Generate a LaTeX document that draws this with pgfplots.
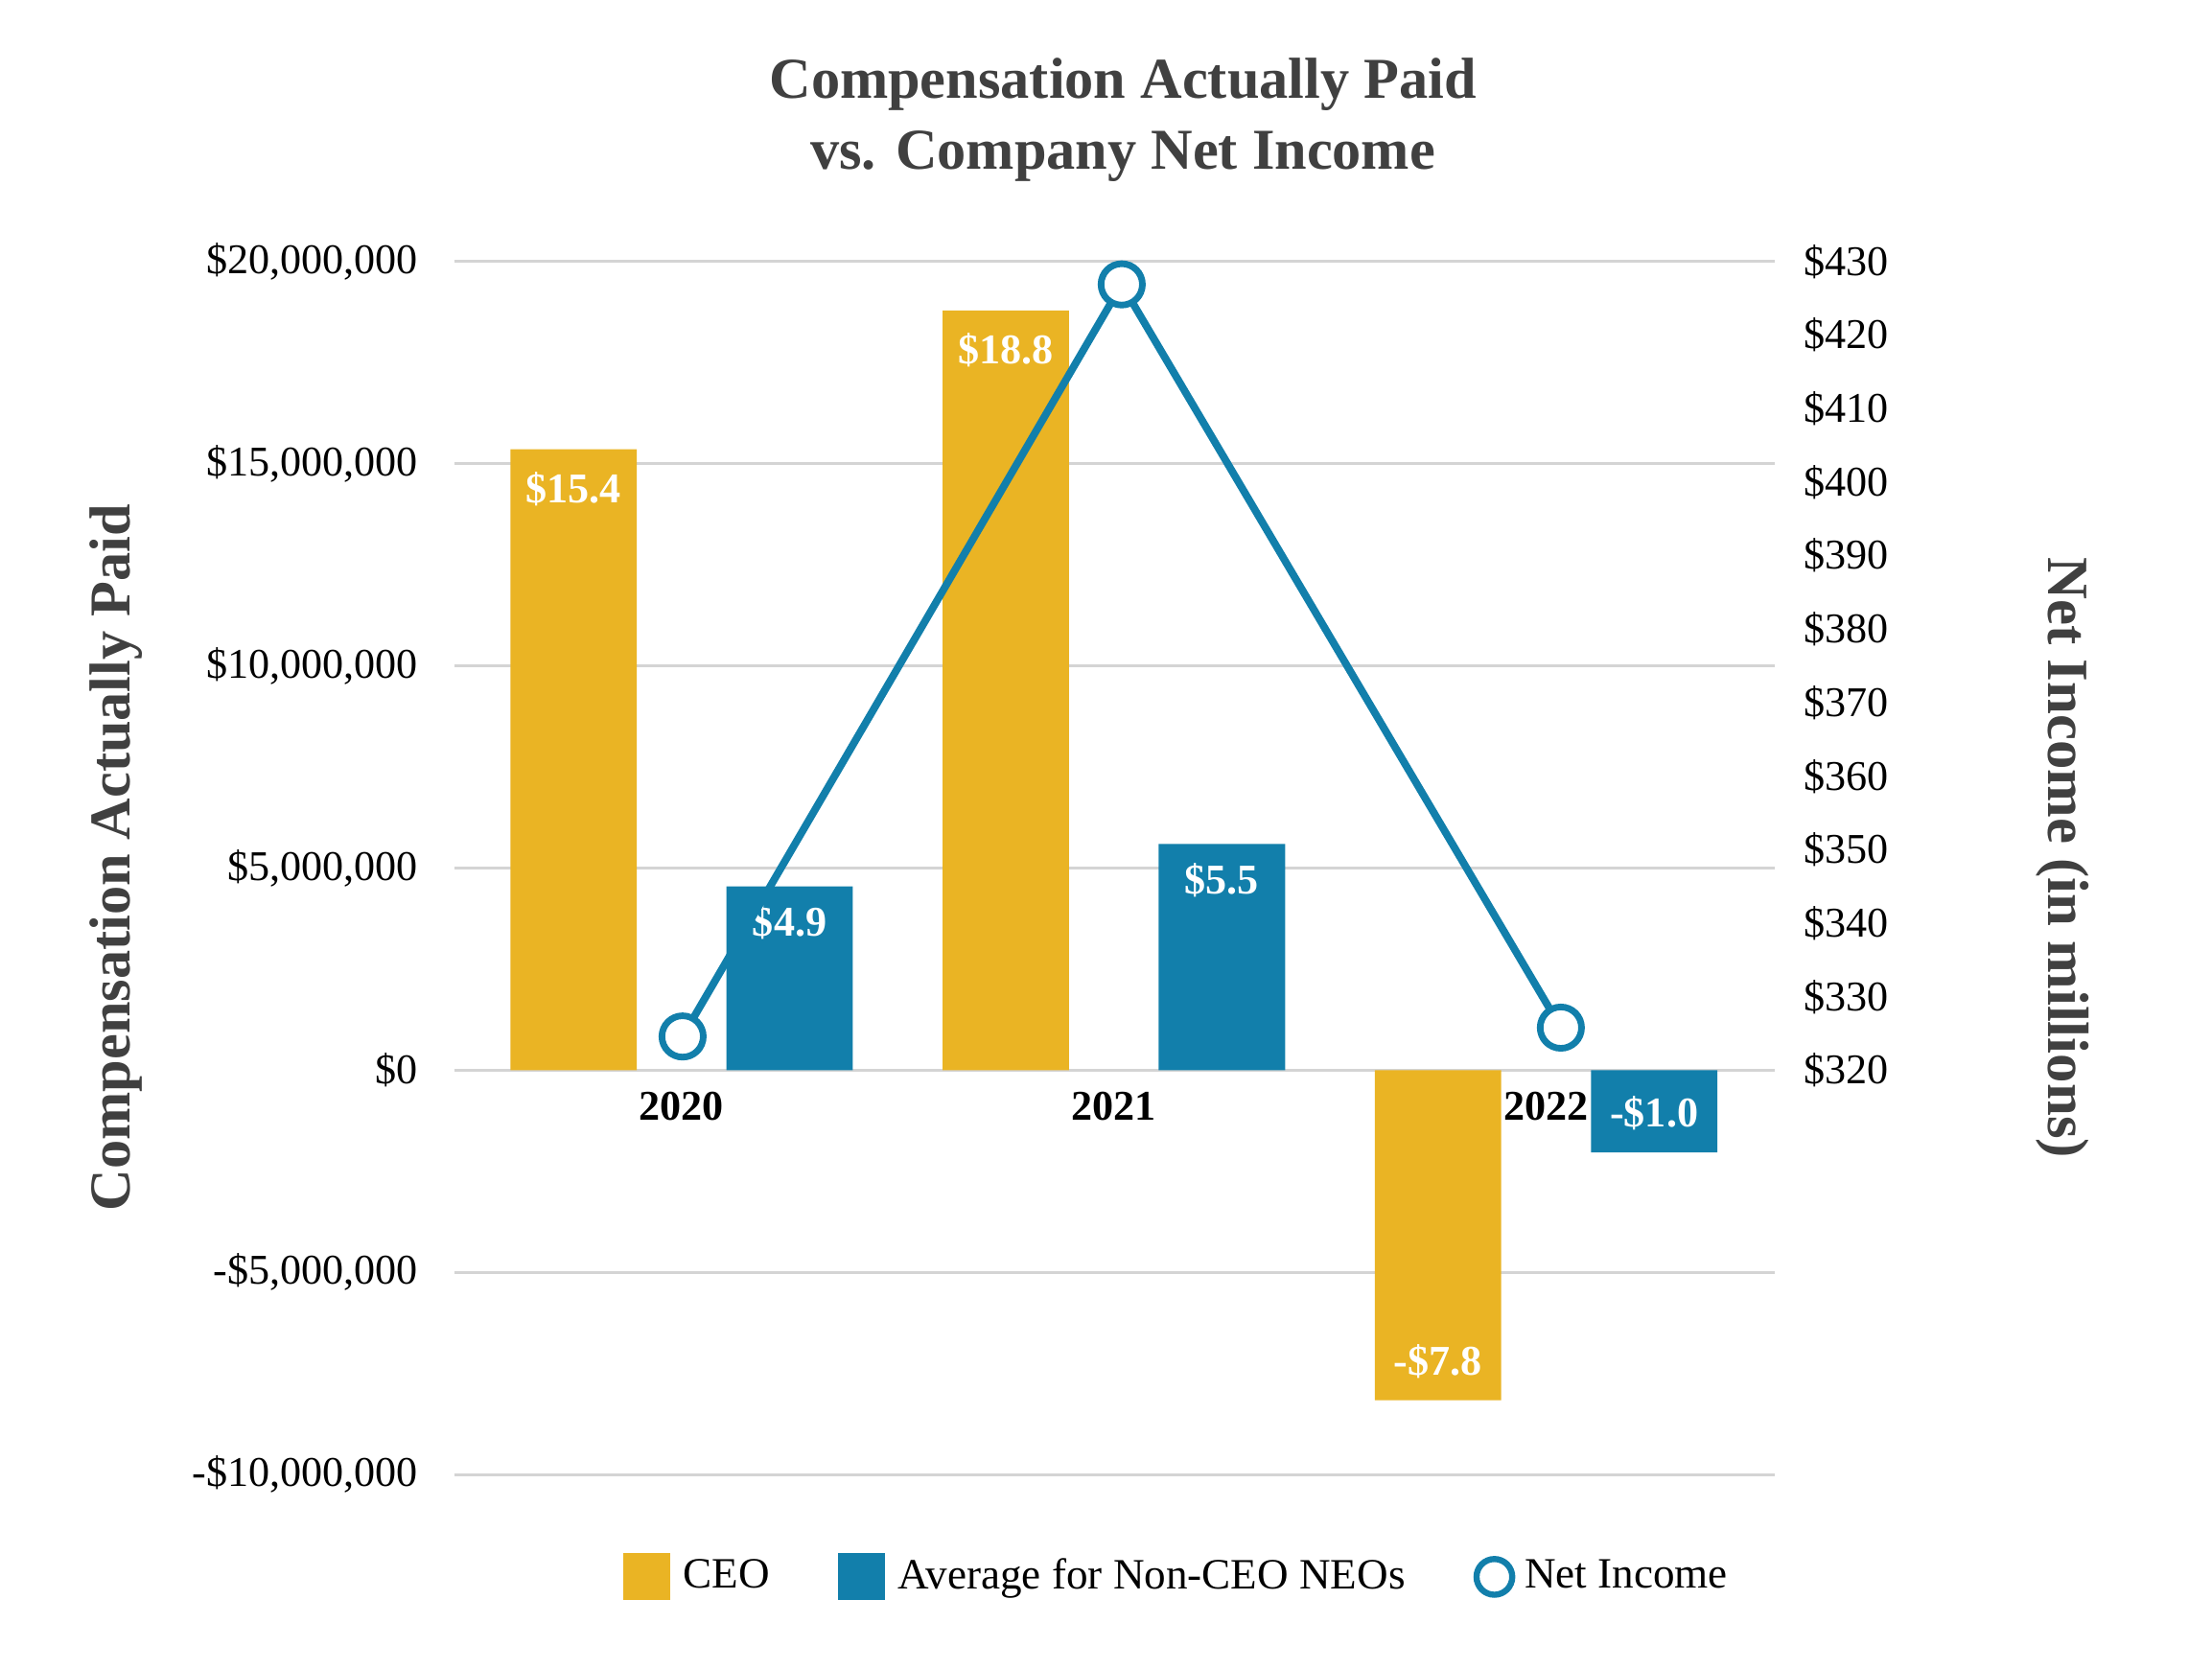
\documentclass[border=0pt]{standalone}
\usepackage{pgfplots}
\pgfplotsset{compat=1.18}
\usepackage{fontspec}
\setmainfont{Liberation Serif}
\definecolor{ceo}{HTML}{EAB424}
\definecolor{neo}{HTML}{127FAB}
\definecolor{ttl}{HTML}{404040}
\definecolor{grd}{HTML}{D4D4D4}
\begin{document}
\begin{tikzpicture}
\path[use as bounding box] (-96.6pt,-41.25pt) rectangle (373.8pt,313.65pt);
\begin{axis}[
  at={(0pt,0pt)}, anchor=south west,
  width=280.8pt, height=258pt, scale only axis,
  clip=false,
  xmin=-0.526, xmax=2.529,
  ymin=-10, ymax=20,
  axis x line*=middle, axis y line*=left,
  axis line style={-},
  x axis line style={draw=grd, line width=0.6pt},
  y axis line style={draw=none},
  major tick length=0pt,
  ymajorgrids, grid style={draw=grd, line width=0.6pt},
  ytick={-10,-5,0,5,10,15,20},
  yticklabels={{-\$10,000,000},{-\$5,000,000},{\$0},{\$5,000,000},{\$10,000,000},{\$15,000,000},{\$20,000,000}},
  yticklabel style={font=\fontsize{9}{10.8}\selectfont, text=black, xshift=-4.2pt},
  xtick={0,1,2}, xticklabels={2020,2021,2022},
  xticklabel style={font=\fontsize{9}{10.8}\selectfont\bfseries, text=black, yshift=-1pt},
  every axis y label/.style={at={(axis description cs:-0.2564,0.5087)}, rotate=90, anchor=center,
     font=\fontsize{12.3}{15}\selectfont\bfseries, text=ttl},
  ylabel={Compensation Actually Paid},
]
\addplot[ybar, bar width=0.2924, bar shift=0pt, fill=ceo, draw=none,
  point meta=explicit symbolic,
  visualization depends on={y \as \rawy},
  nodes near coords,
  nodes near coords style={anchor=center, text=white, font=\fontsize{9}{10.8}\selectfont\bfseries,
     yshift={ifthenelse(\rawy<0,8.3,-8.5)}}]
  coordinates {(-0.25,15.36) [\$15.4] (0.75,18.79) [\$18.8] (1.75,-8.16) [-\$7.8]};
\addplot[ybar, bar width=0.2924, bar shift=0pt, fill=neo, draw=none,
  point meta=explicit symbolic,
  visualization depends on={y \as \rawy},
  nodes near coords,
  nodes near coords style={anchor=center, text=white, font=\fontsize{9}{10.8}\selectfont\bfseries,
     yshift={ifthenelse(\rawy<0,8.3,-7.7)}}]
  coordinates {(0.25,4.55) [\$4.9] (1.25,5.6) [\$5.5] (2.25,-2.03) [-\$1.0]};
\end{axis}
\begin{axis}[
  at={(0pt,0pt)}, anchor=south west,
  width=280.8pt, height=258pt, scale only axis,
  clip=false,
  xmin=-0.52, xmax=2.487,
  ymin=265, ymax=430,
  axis x line=none, axis y line*=right,
  y axis line style={draw=none},
  major tick length=0pt,
  ytick={320,330,340,350,360,370,380,390,400,410,420,430},
  yticklabels={\$320,\$330,\$340,\$350,\$360,\$370,\$380,\$390,\$400,\$410,\$420,\$430},
  yticklabel style={font=\fontsize{9}{10.8}\selectfont, text=black, xshift=2.7pt},
  every axis y label/.style={at={(axis description cs:1.218,0.5087)}, rotate=-90, anchor=center,
     font=\fontsize{12.4}{15}\selectfont\bfseries, text=ttl},
  ylabel={Net Income (in millions)},
  legend columns=3,
  legend style={at={(axis description cs:0.5496,-0.0843)}, anchor=center, draw=none, fill=none,
     font=\fontsize{9.2}{11}\selectfont, text=black,
     /tikz/every even column/.append style={column sep=12.5pt}},
]
\addlegendimage{legend image code/.code={\fill[ceo] (0pt,-4.8pt) rectangle (9.6pt,4.8pt); \path[draw=none, fill=none] (0pt,0pt) -- (10.6pt,0pt);}}
\addlegendentry{CEO}
\addlegendimage{legend image code/.code={\fill[neo] (0pt,-4.8pt) rectangle (9.6pt,4.8pt); \path[draw=none, fill=none] (0pt,0pt) -- (10.6pt,0pt);}}
\addlegendentry{Average for Non-CEO NEOs}
\addplot[neo, line width=1.6pt, mark=*, mark size=4.4pt,
  mark options={fill=white, draw=neo, line width=1.4pt},
  legend image code/.code={\draw[neo, line width=1.3pt, fill=white] (4.5pt,0pt) circle (3.8pt);}]
  coordinates {(0,324.6) (1,426.9) (2,325.8)};
\addlegendentry{Net Income}
\end{axis}
\node[anchor=base, font=\fontsize{12.3}{15}\selectfont\bfseries, text=ttl] at (142.2pt,292.65pt) {Compensation Actually Paid};
\node[anchor=base, font=\fontsize{12.3}{15}\selectfont\bfseries, text=ttl] at (142.2pt,277.65pt) {vs. Company Net Income};
\end{tikzpicture}
\end{document}
